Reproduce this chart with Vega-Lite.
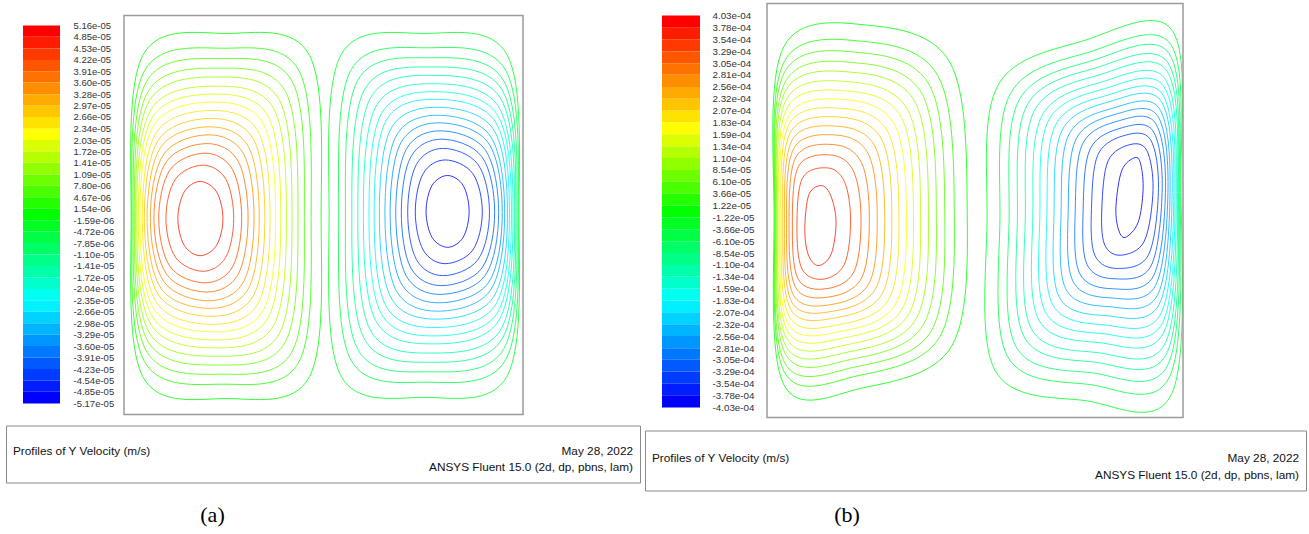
{
  "$schema": "https://vega.github.io/schema/vega-lite/v6.json",
  "background": "white",
  "padding": {"left": 5, "top": 2.5, "right": 0, "bottom": 0},
  "config": {"view": {"stroke": null}, "font": "Liberation Sans"},
  "spacing": 3,
  "bounds": "full",
  "resolve": {"scale": {"color": "independent"}},
  "hconcat": [
    {
      "vconcat": [
        {
          "hconcat": [
            {
              "width": 54,
              "height": 411,
              "data": {"values": [
                {"v": 5.16e-5}, {"v": 4.85e-5}, {"v": 4.53e-5}, {"v": 4.22e-5}, {"v": 3.91e-5}, {"v": 3.60e-5},
                {"v": 3.28e-5}, {"v": 2.97e-5}, {"v": 2.66e-5}, {"v": 2.34e-5}, {"v": 2.03e-5}, {"v": 1.72e-5},
                {"v": 1.41e-5}, {"v": 1.09e-5}, {"v": 7.80e-6}, {"v": 4.67e-6}, {"v": 1.54e-6}, {"v": -1.59e-6},
                {"v": -4.72e-6}, {"v": -7.85e-6}, {"v": -1.10e-5}, {"v": -1.41e-5}, {"v": -1.72e-5}, {"v": -2.04e-5},
                {"v": -2.35e-5}, {"v": -2.66e-5}, {"v": -2.98e-5}, {"v": -3.29e-5}, {"v": -3.60e-5}, {"v": -3.91e-5},
                {"v": -4.23e-5}, {"v": -4.54e-5}, {"v": -4.85e-5}, {"v": -5.17e-5}
              ]},
              "transform": [
                {"window": [{"op": "lead", "field": "v", "as": "lo"}], "sort": [{"field": "v", "order": "descending"}]},
                {"filter": "datum.lo != null"}
              ],
              "mark": {"type": "rect"},
              "encoding": {
                "x": {"datum": 0.315, "type": "quantitative", "scale": {"domain": [0, 1], "nice": false, "zero": false}, "axis": null},
                "x2": {"datum": 1},
                "y": {
                  "field": "v", "type": "quantitative",
                  "scale": {"domain": [-5.4706e-5, 5.7612e-5], "nice": false, "zero": false},
                  "axis": {
                    "orient": "right", "title": null, "grid": false, "domain": false, "ticks": false, "tickSize": 0,
                    "labelPadding": 13, "labelFont": "Liberation Sans", "labelFontSize": 9.5, "labelColor": "#333333",
                    "labelOverlap": false, "labelFlush": false, "labelBound": false,
                    "values": [5.16e-5, 4.85e-5, 4.53e-5, 4.22e-5, 3.91e-5, 3.60e-5, 3.28e-5, 2.97e-5, 2.66e-5, 2.34e-5, 2.03e-5, 1.72e-5, 1.41e-5, 1.09e-5, 7.80e-6, 4.67e-6, 1.54e-6, -1.59e-6, -4.72e-6, -7.85e-6, -1.10e-5, -1.41e-5, -1.72e-5, -2.04e-5, -2.35e-5, -2.66e-5, -2.98e-5, -3.29e-5, -3.60e-5, -3.91e-5, -4.23e-5, -4.54e-5, -4.85e-5, -5.17e-5],
                    "labelExpr": "replace(replace(format(datum.value, '.2e'), 'e-', 'e-0'), '\u2212', '-')"
                  }
                },
                "y2": {"field": "lo"},
                "color": {
                  "field": "v", "type": "quantitative", "legend": null,
                  "scale": {"domain": [-4.85e-5, -2.2e-5, 1.54e-6, 2.35e-5, 5.16e-5], "range": ["#0000ff", "#00ffff", "#00ff00", "#ffff00", "#ff0000"], "interpolate": "rgb"}
                }
              }
            },
            {
              "width": 399,
              "height": 411,
              "layer": [
                {
                  "data": {"values": [
                    {"v": 1.54e-6, "x": [0.494,0.465,0.256,0.047,0.018,0.047,0.256,0.465], "y": [0.497,0.900,0.955,0.900,0.497,0.095,0.040,0.095]},
                    {"v": 4.67e-6, "x": [0.469,0.439,0.250,0.051,0.020,0.051,0.250,0.439], "y": [0.496,0.861,0.918,0.861,0.496,0.133,0.076,0.133]},
                    {"v": 7.80e-6, "x": [0.452,0.422,0.245,0.056,0.023,0.056,0.245,0.422], "y": [0.496,0.834,0.892,0.834,0.496,0.159,0.101,0.159]},
                    {"v": 1.09e-5, "x": [0.436,0.405,0.241,0.060,0.026,0.060,0.241,0.405], "y": [0.496,0.809,0.868,0.809,0.496,0.183,0.124,0.183]},
                    {"v": 1.41e-5, "x": [0.421,0.390,0.237,0.064,0.029,0.064,0.237,0.390], "y": [0.495,0.787,0.846,0.787,0.495,0.204,0.146,0.204]},
                    {"v": 1.72e-5, "x": [0.407,0.376,0.233,0.068,0.032,0.068,0.233,0.376], "y": [0.495,0.765,0.823,0.765,0.495,0.225,0.167,0.225]},
                    {"v": 2.03e-5, "x": [0.393,0.362,0.229,0.072,0.036,0.072,0.229,0.362], "y": [0.495,0.746,0.803,0.746,0.495,0.244,0.187,0.244]},
                    {"v": 2.34e-5, "x": [0.380,0.350,0.226,0.076,0.040,0.076,0.226,0.350], "y": [0.494,0.727,0.783,0.727,0.494,0.263,0.207,0.263]},
                    {"v": 2.66e-5, "x": [0.366,0.337,0.222,0.082,0.046,0.082,0.222,0.337], "y": [0.494,0.708,0.762,0.708,0.494,0.280,0.226,0.280]},
                    {"v": 2.97e-5, "x": [0.353,0.325,0.219,0.087,0.051,0.087,0.219,0.325], "y": [0.494,0.689,0.742,0.689,0.494,0.299,0.246,0.299]},
                    {"v": 3.28e-5, "x": [0.339,0.312,0.215,0.093,0.058,0.093,0.215,0.312], "y": [0.493,0.671,0.721,0.671,0.493,0.316,0.266,0.316]},
                    {"v": 3.60e-5, "x": [0.326,0.300,0.212,0.100,0.066,0.100,0.212,0.300], "y": [0.493,0.653,0.701,0.653,0.493,0.333,0.285,0.333]},
                    {"v": 3.91e-5, "x": [0.311,0.286,0.208,0.107,0.075,0.107,0.208,0.286], "y": [0.493,0.635,0.679,0.635,0.493,0.351,0.307,0.351]},
                    {"v": 4.22e-5, "x": [0.295,0.272,0.203,0.116,0.087,0.116,0.203,0.272], "y": [0.492,0.614,0.655,0.614,0.492,0.370,0.330,0.370]},
                    {"v": 4.53e-5, "x": [0.275,0.255,0.198,0.129,0.105,0.129,0.198,0.255], "y": [0.492,0.590,0.625,0.590,0.492,0.394,0.359,0.394]},
                    {"v": 4.85e-5, "x": [0.248,0.232,0.191,0.151,0.135,0.151,0.191,0.232], "y": [0.491,0.558,0.584,0.558,0.491,0.424,0.398,0.424]},
                    {"v": -1.59e-6, "x": [0.990,0.961,0.752,0.543,0.514,0.543,0.752,0.961], "y": [0.500,0.900,0.955,0.900,0.500,0.098,0.043,0.098]},
                    {"v": -4.72e-6, "x": [0.988,0.957,0.758,0.568,0.538,0.568,0.758,0.957], "y": [0.501,0.862,0.919,0.862,0.501,0.138,0.081,0.138]},
                    {"v": -7.85e-6, "x": [0.985,0.952,0.762,0.585,0.555,0.585,0.762,0.952], "y": [0.502,0.836,0.894,0.836,0.502,0.165,0.107,0.165]},
                    {"v": -1.10e-5, "x": [0.982,0.948,0.766,0.602,0.571,0.602,0.766,0.948], "y": [0.502,0.813,0.871,0.813,0.502,0.190,0.131,0.190]},
                    {"v": -1.41e-5, "x": [0.979,0.944,0.769,0.617,0.586,0.617,0.769,0.944], "y": [0.503,0.792,0.850,0.792,0.503,0.212,0.154,0.212]},
                    {"v": -1.72e-5, "x": [0.975,0.939,0.773,0.631,0.600,0.631,0.773,0.939], "y": [0.503,0.771,0.829,0.771,0.503,0.235,0.177,0.235]},
                    {"v": -2.04e-5, "x": [0.971,0.935,0.776,0.644,0.614,0.644,0.776,0.935], "y": [0.504,0.752,0.809,0.752,0.504,0.254,0.197,0.254]},
                    {"v": -2.35e-5, "x": [0.966,0.930,0.779,0.656,0.627,0.656,0.779,0.930], "y": [0.504,0.735,0.790,0.735,0.504,0.273,0.218,0.273]},
                    {"v": -2.66e-5, "x": [0.961,0.925,0.783,0.669,0.640,0.669,0.783,0.925], "y": [0.505,0.716,0.770,0.716,0.505,0.293,0.239,0.293]},
                    {"v": -2.98e-5, "x": [0.954,0.918,0.786,0.682,0.654,0.682,0.786,0.918], "y": [0.505,0.698,0.750,0.698,0.505,0.311,0.259,0.311]},
                    {"v": -3.29e-5, "x": [0.948,0.913,0.789,0.694,0.667,0.694,0.789,0.913], "y": [0.506,0.681,0.731,0.681,0.506,0.330,0.280,0.330]},
                    {"v": -3.60e-5, "x": [0.939,0.905,0.792,0.707,0.681,0.707,0.792,0.905], "y": [0.506,0.664,0.711,0.664,0.506,0.348,0.301,0.348]},
                    {"v": -3.91e-5, "x": [0.929,0.897,0.796,0.719,0.695,0.719,0.796,0.897], "y": [0.507,0.646,0.690,0.646,0.507,0.367,0.323,0.367]},
                    {"v": -4.23e-5, "x": [0.916,0.887,0.800,0.733,0.711,0.733,0.800,0.887], "y": [0.507,0.627,0.667,0.627,0.507,0.388,0.348,0.388]},
                    {"v": -4.54e-5, "x": [0.898,0.874,0.805,0.750,0.730,0.750,0.805,0.874], "y": [0.508,0.604,0.638,0.604,0.508,0.412,0.378,0.412]},
                    {"v": -4.85e-5, "x": [0.865,0.850,0.811,0.772,0.757,0.772,0.811,0.850], "y": [0.509,0.574,0.599,0.574,0.509,0.444,0.419,0.444]}
                  ]},
                  "transform": [{"flatten": ["x", "y"]}],
                  "mark": {"type": "line", "interpolate": "cardinal-closed", "strokeWidth": 1, "opacity": 0.8},
                  "encoding": {
                    "x": {"field": "x", "type": "quantitative", "scale": {"domain": [0, 1], "nice": false, "zero": false}, "axis": null},
                    "y": {"field": "y", "type": "quantitative", "scale": {"domain": [0, 1.03008], "nice": false, "zero": false}, "axis": null},
                    "detail": {"field": "v", "type": "nominal"},
                    "order": {"value": null},
                    "color": {
                      "field": "v", "type": "quantitative", "legend": null,
                      "scale": {"domain": [-4.85e-5, -2.2e-5, 1.54e-6, 2.35e-5, 5.16e-5], "range": ["#0000ff", "#00ffff", "#00ff00", "#ffff00", "#ff0000"], "interpolate": "rgb"}
                    }
                  }
                },
                {
                  "data": {"values": [{}]},
                  "mark": {"type": "rect", "filled": false, "stroke": "#9a9a9a", "strokeWidth": 1.5},
                  "encoding": {"x": {"datum": 0}, "x2": {"datum": 1}, "y": {"datum": 0}, "y2": {"datum": 1}}
                }
              ]
            }
          ],
          "spacing": 64,
          "bounds": "flush",
          "resolve": {"scale": {"color": "independent"}}
        },
        {
          "width": 634,
          "height": 57,
          "view": {"stroke": "#8a8a8a", "strokeWidth": 1},
          "title": {"text": "(a)", "orient": "bottom", "anchor": "middle", "dx": -110.5, "offset": 39, "font": "Liberation Serif", "fontSize": 22, "fontWeight": "normal", "color": "#000000", "baseline": "alphabetic"},
          "layer": [
            {
              "data": {"values": [{"t": "Profiles of Y Velocity (m/s)"}]},
              "mark": {"type": "text", "align": "left", "baseline": "alphabetic", "dx": 7, "font": "Liberation Sans", "fontSize": 11.8, "color": "#111111"},
              "encoding": {
                "x": {"datum": 0, "scale": {"domain": [0, 1]}, "axis": null},
                "y": {"datum": 0.526, "scale": {"domain": [0, 1], "reverse": true}, "axis": null},
                "text": {"field": "t"}
              }
            },
            {
              "data": {"values": [{"t": "May 28, 2022"}]},
              "mark": {"type": "text", "align": "right", "baseline": "alphabetic", "dx": -7, "font": "Liberation Sans", "fontSize": 11.8, "color": "#111111"},
              "encoding": {"x": {"datum": 1}, "y": {"datum": 0.526}, "text": {"field": "t"}}
            },
            {
              "data": {"values": [{"t": "ANSYS Fluent 15.0 (2d, dp, pbns, lam)"}]},
              "mark": {"type": "text", "align": "right", "baseline": "alphabetic", "dx": -7, "font": "Liberation Sans", "fontSize": 11.8, "color": "#111111"},
              "encoding": {"x": {"datum": 1}, "y": {"datum": 0.807}, "text": {"field": "t"}}
            }
          ]
        }
      ],
      "spacing": 9,
      "bounds": "full",
      "resolve": {"scale": {"color": "independent"}}
    },
    {
      "vconcat": [
        {
          "hconcat": [
            {
              "width": 55,
              "height": 414,
              "data": {"values": [
                {"v": 4.03e-4}, {"v": 3.78e-4}, {"v": 3.54e-4}, {"v": 3.29e-4}, {"v": 3.05e-4}, {"v": 2.81e-4},
                {"v": 2.56e-4}, {"v": 2.32e-4}, {"v": 2.07e-4}, {"v": 1.83e-4}, {"v": 1.59e-4}, {"v": 1.34e-4},
                {"v": 1.10e-4}, {"v": 8.54e-5}, {"v": 6.10e-5}, {"v": 3.66e-5}, {"v": 1.22e-5}, {"v": -1.22e-5},
                {"v": -3.66e-5}, {"v": -6.10e-5}, {"v": -8.54e-5}, {"v": -1.10e-4}, {"v": -1.34e-4}, {"v": -1.59e-4},
                {"v": -1.83e-4}, {"v": -2.07e-4}, {"v": -2.32e-4}, {"v": -2.56e-4}, {"v": -2.81e-4}, {"v": -3.05e-4},
                {"v": -3.29e-4}, {"v": -3.54e-4}, {"v": -3.78e-4}, {"v": -4.03e-4}
              ]},
              "transform": [
                {"window": [{"op": "lead", "field": "v", "as": "lo"}], "sort": [{"field": "v", "order": "descending"}]},
                {"filter": "datum.lo != null"}
              ],
              "mark": {"type": "rect"},
              "encoding": {
                "x": {"datum": 0.309, "type": "quantitative", "scale": {"domain": [0, 1], "nice": false, "zero": false}, "axis": null},
                "x2": {"datum": 1},
                "y": {
                  "field": "v", "type": "quantitative",
                  "scale": {"domain": [-4.2356e-4, 4.2767e-4], "nice": false, "zero": false},
                  "axis": {
                    "orient": "right", "title": null, "grid": false, "domain": false, "ticks": false, "tickSize": 0,
                    "labelPadding": 12, "labelFont": "Liberation Sans", "labelFontSize": 9.8, "labelColor": "#333333",
                    "labelOverlap": false, "labelFlush": false, "labelBound": false,
                    "values": [4.03e-4, 3.78e-4, 3.54e-4, 3.29e-4, 3.05e-4, 2.81e-4, 2.56e-4, 2.32e-4, 2.07e-4, 1.83e-4, 1.59e-4, 1.34e-4, 1.10e-4, 8.54e-5, 6.10e-5, 3.66e-5, 1.22e-5, -1.22e-5, -3.66e-5, -6.10e-5, -8.54e-5, -1.10e-4, -1.34e-4, -1.59e-4, -1.83e-4, -2.07e-4, -2.32e-4, -2.56e-4, -2.81e-4, -3.05e-4, -3.29e-4, -3.54e-4, -3.78e-4, -4.03e-4],
                    "labelExpr": "replace(replace(format(datum.value, '.2e'), 'e-', 'e-0'), '\u2212', '-')"
                  }
                },
                "y2": {"field": "lo"},
                "color": {
                  "field": "v", "type": "quantitative", "legend": null,
                  "scale": {"domain": [-3.78e-4, -1.71e-4, 1.22e-5, 1.83e-4, 4.03e-4], "range": ["#0000ff", "#00ffff", "#00ff00", "#ffff00", "#ff0000"], "interpolate": "rgb"}
                }
              }
            },
            {
              "width": 416,
              "height": 414,
              "layer": [
                {
                  "data": {"values": [
                    {"v": 1.22e-5, "x": [0.481,0.440,0.248,0.040,0.017,0.040,0.224,0.445], "y": [0.524,0.857,0.947,0.895,0.488,0.080,0.070,0.174]},
                    {"v": 3.66e-5, "x": [0.450,0.411,0.236,0.041,0.019,0.041,0.214,0.416], "y": [0.519,0.825,0.908,0.859,0.485,0.111,0.100,0.196]},
                    {"v": 6.10e-5, "x": [0.427,0.391,0.228,0.042,0.020,0.042,0.207,0.396], "y": [0.515,0.802,0.881,0.834,0.483,0.133,0.121,0.211]},
                    {"v": 8.54e-5, "x": [0.407,0.373,0.221,0.044,0.022,0.044,0.200,0.377], "y": [0.512,0.781,0.856,0.811,0.481,0.154,0.140,0.226]},
                    {"v": 1.10e-4, "x": [0.388,0.356,0.214,0.045,0.024,0.045,0.194,0.359], "y": [0.508,0.762,0.833,0.790,0.479,0.173,0.158,0.239]},
                    {"v": 1.34e-4, "x": [0.369,0.339,0.207,0.047,0.026,0.047,0.188,0.342], "y": [0.505,0.742,0.810,0.769,0.477,0.191,0.175,0.252]},
                    {"v": 1.59e-4, "x": [0.352,0.323,0.200,0.049,0.029,0.049,0.183,0.326], "y": [0.502,0.725,0.788,0.749,0.475,0.209,0.192,0.264]},
                    {"v": 1.83e-4, "x": [0.335,0.307,0.194,0.052,0.031,0.051,0.177,0.310], "y": [0.499,0.707,0.767,0.729,0.474,0.226,0.208,0.276]},
                    {"v": 2.07e-4, "x": [0.317,0.291,0.188,0.054,0.034,0.054,0.172,0.294], "y": [0.496,0.689,0.746,0.710,0.472,0.243,0.224,0.288]},
                    {"v": 2.32e-4, "x": [0.300,0.276,0.181,0.057,0.038,0.057,0.166,0.278], "y": [0.494,0.671,0.725,0.690,0.470,0.261,0.241,0.301]},
                    {"v": 2.56e-4, "x": [0.283,0.260,0.175,0.061,0.042,0.060,0.160,0.262], "y": [0.491,0.654,0.703,0.671,0.469,0.278,0.257,0.313]},
                    {"v": 2.81e-4, "x": [0.265,0.244,0.169,0.065,0.047,0.064,0.155,0.246], "y": [0.488,0.636,0.682,0.651,0.467,0.295,0.273,0.325]},
                    {"v": 3.05e-4, "x": [0.246,0.227,0.162,0.070,0.053,0.069,0.149,0.228], "y": [0.485,0.616,0.659,0.630,0.465,0.314,0.291,0.338]},
                    {"v": 3.29e-4, "x": [0.226,0.208,0.154,0.076,0.061,0.075,0.142,0.209], "y": [0.481,0.595,0.634,0.607,0.463,0.334,0.311,0.352]},
                    {"v": 3.54e-4, "x": [0.201,0.186,0.145,0.085,0.072,0.084,0.134,0.186], "y": [0.477,0.570,0.603,0.578,0.460,0.359,0.334,0.370]},
                    {"v": 3.78e-4, "x": [0.166,0.154,0.132,0.101,0.091,0.099,0.123,0.154], "y": [0.471,0.534,0.560,0.539,0.457,0.394,0.367,0.394]},
                    {"v": -1.22e-5, "x": [0.995,0.974,0.764,0.555,0.529,0.548,0.764,0.974], "y": [0.572,0.935,0.911,0.802,0.476,0.114,0.041,0.060]},
                    {"v": -3.66e-5, "x": [0.993,0.970,0.776,0.585,0.560,0.578,0.774,0.969], "y": [0.570,0.902,0.883,0.782,0.480,0.148,0.080,0.101]},
                    {"v": -6.10e-5, "x": [0.991,0.966,0.785,0.606,0.582,0.598,0.781,0.965], "y": [0.568,0.880,0.863,0.767,0.482,0.172,0.108,0.130]},
                    {"v": -8.54e-5, "x": [0.989,0.963,0.792,0.625,0.602,0.618,0.787,0.962], "y": [0.566,0.858,0.845,0.754,0.485,0.195,0.134,0.157]},
                    {"v": -1.10e-4, "x": [0.987,0.960,0.800,0.643,0.621,0.635,0.793,0.958], "y": [0.565,0.839,0.828,0.742,0.487,0.215,0.157,0.181]},
                    {"v": -1.34e-4, "x": [0.984,0.956,0.807,0.661,0.639,0.653,0.798,0.954], "y": [0.563,0.819,0.811,0.729,0.489,0.236,0.181,0.206]},
                    {"v": -1.59e-4, "x": [0.981,0.953,0.814,0.677,0.656,0.669,0.804,0.951], "y": [0.562,0.801,0.795,0.718,0.491,0.255,0.203,0.229]},
                    {"v": -1.83e-4, "x": [0.978,0.949,0.820,0.694,0.673,0.686,0.809,0.947], "y": [0.561,0.783,0.779,0.707,0.493,0.274,0.224,0.251]},
                    {"v": -2.07e-4, "x": [0.974,0.946,0.827,0.710,0.690,0.702,0.814,0.943], "y": [0.560,0.766,0.764,0.695,0.495,0.292,0.246,0.274]},
                    {"v": -2.32e-4, "x": [0.969,0.942,0.834,0.726,0.707,0.718,0.820,0.939], "y": [0.558,0.748,0.748,0.684,0.497,0.311,0.268,0.296]},
                    {"v": -2.56e-4, "x": [0.964,0.938,0.840,0.743,0.724,0.735,0.825,0.934], "y": [0.557,0.730,0.733,0.673,0.499,0.330,0.289,0.319]},
                    {"v": -2.81e-4, "x": [0.958,0.933,0.847,0.759,0.741,0.751,0.830,0.929], "y": [0.556,0.712,0.717,0.662,0.501,0.349,0.311,0.342]},
                    {"v": -3.05e-4, "x": [0.950,0.928,0.854,0.777,0.760,0.769,0.836,0.923], "y": [0.554,0.692,0.700,0.649,0.503,0.370,0.335,0.366]},
                    {"v": -3.29e-4, "x": [0.941,0.922,0.862,0.796,0.780,0.788,0.843,0.917], "y": [0.553,0.671,0.682,0.636,0.505,0.392,0.360,0.393]},
                    {"v": -3.54e-4, "x": [0.928,0.913,0.872,0.820,0.805,0.811,0.850,0.907], "y": [0.551,0.645,0.659,0.620,0.508,0.419,0.392,0.426]},
                    {"v": -3.78e-4, "x": [0.904,0.899,0.885,0.853,0.839,0.844,0.861,0.892], "y": [0.548,0.609,0.628,0.597,0.512,0.457,0.435,0.471]}
                  ]},
                  "transform": [{"flatten": ["x", "y"]}],
                  "mark": {"type": "line", "interpolate": "cardinal-closed", "strokeWidth": 1, "opacity": 0.8},
                  "encoding": {
                    "x": {"field": "x", "type": "quantitative", "scale": {"domain": [0, 1], "nice": false, "zero": false}, "axis": null},
                    "y": {"field": "y", "type": "quantitative", "scale": {"domain": [0, 1], "nice": false, "zero": false}, "axis": null},
                    "detail": {"field": "v", "type": "nominal"},
                    "order": {"value": null},
                    "color": {
                      "field": "v", "type": "quantitative", "legend": null,
                      "scale": {"domain": [-3.78e-4, -1.71e-4, 1.22e-5, 1.83e-4, 4.03e-4], "range": ["#0000ff", "#00ffff", "#00ff00", "#ffff00", "#ff0000"], "interpolate": "rgb"}
                    }
                  }
                },
                {
                  "data": {"values": [{}]},
                  "mark": {"type": "rect", "filled": false, "stroke": "#9a9a9a", "strokeWidth": 1.5},
                  "encoding": {"x": {"datum": 0}, "x2": {"datum": 1}, "y": {"datum": 0}, "y2": {"datum": 1}}
                }
              ]
            }
          ],
          "spacing": 67,
          "bounds": "flush",
          "resolve": {"scale": {"color": "independent"}}
        },
        {
          "width": 661,
          "height": 60,
          "view": {"stroke": "#8a8a8a", "strokeWidth": 1},
          "title": {"text": "(b)", "orient": "bottom", "anchor": "middle", "dx": -128.5, "offset": 31, "font": "Liberation Serif", "fontSize": 22, "fontWeight": "normal", "color": "#000000", "baseline": "alphabetic"},
          "layer": [
            {
              "data": {"values": [{"t": "Profiles of Y Velocity (m/s)"}]},
              "mark": {"type": "text", "align": "left", "baseline": "alphabetic", "dx": 7, "font": "Liberation Sans", "fontSize": 11.8, "color": "#111111"},
              "encoding": {
                "x": {"datum": 0, "scale": {"domain": [0, 1]}, "axis": null},
                "y": {"datum": 0.533, "scale": {"domain": [0, 1], "reverse": true}, "axis": null},
                "text": {"field": "t"}
              }
            },
            {
              "data": {"values": [{"t": "May 28, 2022"}]},
              "mark": {"type": "text", "align": "right", "baseline": "alphabetic", "dx": -7, "font": "Liberation Sans", "fontSize": 11.8, "color": "#111111"},
              "encoding": {"x": {"datum": 1}, "y": {"datum": 0.533}, "text": {"field": "t"}}
            },
            {
              "data": {"values": [{"t": "ANSYS Fluent 15.0 (2d, dp, pbns, lam)"}]},
              "mark": {"type": "text", "align": "right", "baseline": "alphabetic", "dx": -7, "font": "Liberation Sans", "fontSize": 11.8, "color": "#111111"},
              "encoding": {"x": {"datum": 1}, "y": {"datum": 0.8}, "text": {"field": "t"}}
            }
          ]
        }
      ],
      "spacing": 11,
      "bounds": "full",
      "resolve": {"scale": {"color": "independent"}}
    }
  ]
}
